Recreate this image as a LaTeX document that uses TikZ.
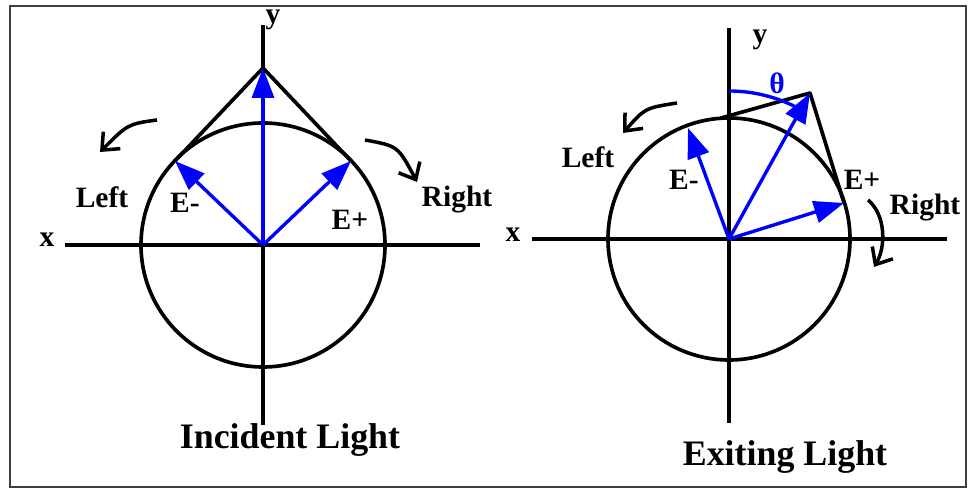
\documentclass[tikz,border=0pt]{standalone}
\usepackage{fontspec}
\setmainfont{Liberation Serif}
\usepackage{tikz}
\usetikzlibrary{arrows.meta}

\begin{document}
\begin{tikzpicture}[
  x=0.025cm, y=0.025cm,
  font=\fontsize{21}{24}\selectfont\bfseries,
  axis/.style={line width=2.6pt},
  ring/.style={line width=2.6pt},
  pol/.style={blue, line width=2.4pt, -{Triangle[length=0.75cm, width=0.55cm]}},
  turn/.style={line width=2.5pt, -{Straight Barb[length=0.35cm, width=0.6cm]}},
  lbl/.style={inner sep=1pt},
  ttl/.style={font=\fontsize{25.5}{28}\selectfont\bfseries}
]
\useasboundingbox (0,0) rectangle (972,490);
\draw[black!75, line width=1.1pt] (10,3) rectangle (966,484);

% incident light
\coordinate (C1) at (263,245);
\coordinate (A1) at (263,422);
\coordinate (L1) at (175,329);
\coordinate (R1) at (351,329);
\coordinate (x1a) at (65,245);  \coordinate (x1b) at (480,245);
\coordinate (y1a) at (263,65);  \coordinate (y1b) at (263,465);
\draw[axis] (x1a) -- (x1b);
\draw[axis] (y1a) -- (y1b);
\draw[ring] (C1) circle[radius=122];
\draw[ring, line join=round] (L1) -- (A1) -- (R1);
\draw[pol] (C1) -- (A1);
\draw[pol] (C1) -- (L1);
\draw[pol] (C1) -- (R1);
\node[lbl] (y1) at (273,470) {y};
\node[lbl] (x1) at (47,250) {x};
\node[lbl] (lf1) at (102,293) {Left};
\node[lbl] (em1) at (185,287) {E-};
\node[lbl] (ep1) at (350,270) {E+};
\node[lbl] (rt1) at (457,290) {Right};
\node[lbl, ttl] (t1) at (290,50) {Incident Light};
\coordinate (tl1a) at (157,370); \coordinate (tl1b) at (100,338);
\coordinate (tr1a) at (365,350); \coordinate (tr1b) at (417,308);
\draw[turn] (tl1a) .. controls (128,366) .. (tl1b);
\draw[turn] (tr1a) .. controls (398,344) .. (tr1b);

% exiting light
\coordinate (C2) at (729,251);
\coordinate (A2) at (810,397);
\coordinate (L2) at (721,372);
\coordinate (R2) at (844,287);
\coordinate (M2) at (688,362);
\coordinate (x2a) at (532,251); \coordinate (x2b) at (947,251);
\coordinate (y2a) at (729,67);  \coordinate (y2b) at (729,462);
\draw[axis] (x2a) -- (x2b);
\draw[axis] (y2a) -- (y2b);
\draw[ring] (C2) circle[radius=121];
\draw[ring, line join=round] (L2) -- (A2) -- (R2);
\draw[blue, line width=2.4pt] (729,399) arc[start angle=90, end angle=60, radius=148];
\draw[pol] (C2) -- (A2);
\draw[pol] (C2) -- (M2);
\draw[pol] (C2) -- (R2);
\node[lbl] (y2) at (760,450) {y};
\node[lbl] (x2) at (513,255) {x};
\node[lbl] (lf2) at (588,333) {Left};
\node[lbl] (em2) at (684,310) {E-};
\node[lbl] (ep2) at (862,310) {E+};
\node[lbl] (rt2) at (925,282) {Right};
\node[lbl, blue] (th) at (777,407) {θ};
\node[lbl, ttl] (t2) at (785,33) {Exiting Light};
\coordinate (tl2a) at (677,387); \coordinate (tl2b) at (623,357);
\coordinate (tr2a) at (868,290); \coordinate (tr2b) at (874,223);
\draw[turn] (tl2a) .. controls (645,382) .. (tl2b);
\draw[turn] (tr2a) .. controls (886,275) and (886,243) .. (tr2b);
\end{tikzpicture}
\end{document}
